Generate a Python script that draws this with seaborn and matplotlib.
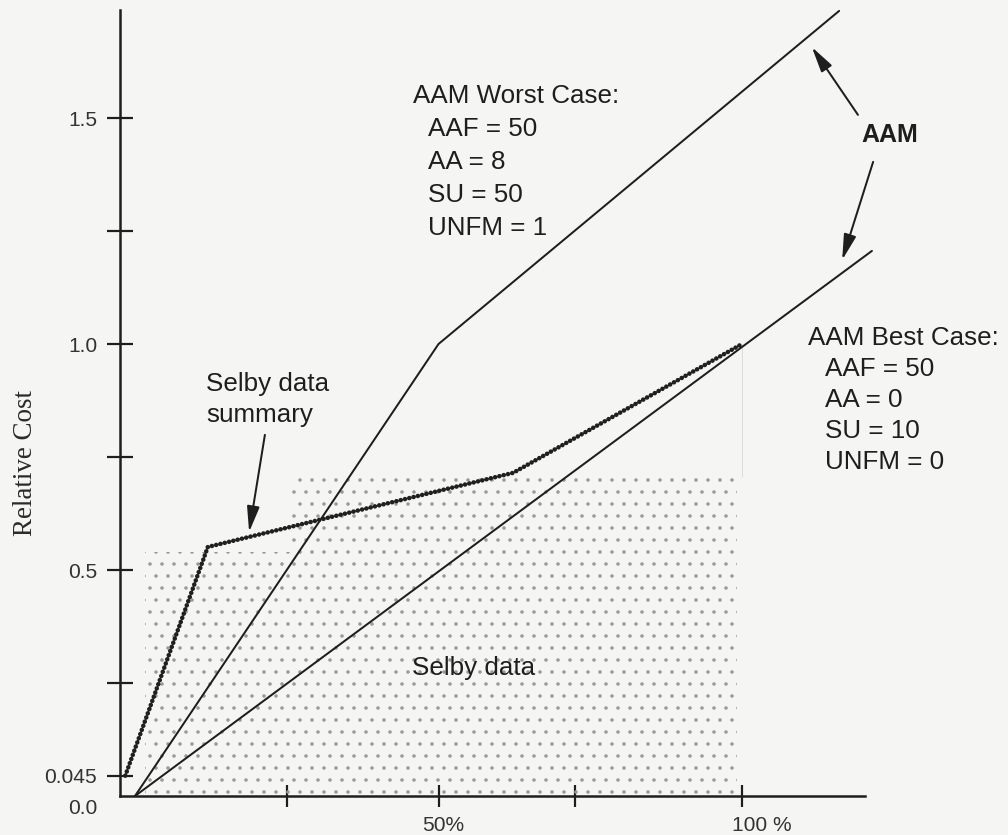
import matplotlib
matplotlib.use("Agg")
import matplotlib.pyplot as plt
import matplotlib.transforms as mtransforms
from matplotlib.ticker import FixedLocator, FixedFormatter
import seaborn as sns
import numpy as np

# ---------------- data ----------------
# x = percent of modification (AAF), y = relative cost
worst_x = [0, 50, 116.0]
worst_y = [0, 1.0, 1.737]
best_x = [0, 121.4]
best_y = [0, 1.206]
selby_sum_x = [-1.6, 12.0, 62.3, 100]
selby_sum_y = [0.045, 0.551, 0.715, 1.0]
# stippled "Selby data" region (step outline)
region_x = [1.6, 25.9, 25.9, 99.2]
region_y = [0.54, 0.54, 0.706, 0.706]
region_vline_x = [100, 100]
region_vline_y = [0.706, 1.0]

ytick_vals = [0.045, 0.25, 0.5, 0.75, 1.0, 1.25, 1.5]
ytick_labels = ["0.045", "", "0.5", "", "1.0", "", "1.5"]
xtick_vals = [25, 50, 72.5, 100]
xtick_labels = ["", "50%", "", "100 %"]

worst_lines = ["AAF = 50", "AA = 8", "SU = 50", "UNFM = 1"]
best_lines = ["AAF = 50", "AA = 0", "SU = 10", "UNFM = 0"]

# ---------------- style ----------------
sns.set_style("white")
plt.rcParams["font.family"] = ["Liberation Sans", "DejaVu Sans"]
plt.rcParams["hatch.linewidth"] = 1.1

INK = "#1e1e1e"
BG = "#f5f5f4"
DPI = 72  # 1 pt == 1 px
fig = plt.figure(figsize=(1008 / DPI, 835 / DPI), dpi=DPI, facecolor=BG)
ax = fig.add_axes([120 / 1008, (835 - 796) / 835, 745 / 1008, 786 / 835])
ax.set_facecolor(BG)

ax.set_xlim(-2.47, 120.26)
ax.set_ylim(0, 1.739)

# stippled region
ax.fill_between(region_x, 0, region_y, facecolor="none", edgecolor="#9a9a9a",
                hatch=".", linewidth=0, zorder=1)
sns.lineplot(x=region_vline_x, y=region_vline_y, ax=ax, color="#7a7a7a",
             lw=1.3, linestyle=(0, (5, 2, 1, 2)), sort=False, zorder=2)

# AAM lines
sns.lineplot(x=worst_x, y=worst_y, ax=ax, color=INK, lw=2.0, sort=False,
             clip_on=False, zorder=3)
sns.lineplot(x=best_x, y=best_y, ax=ax, color=INK, lw=2.0, sort=False,
             clip_on=False, zorder=3)
# Selby data summary (beaded dotted line)
sns.lineplot(x=selby_sum_x, y=selby_sum_y, ax=ax, color="#202020", lw=4.6,
             linestyle=(0, (0.01, 0.95)), dash_capstyle="round",
             sort=False, clip_on=False, zorder=4)

# ---------------- axes ----------------
for s in ["top", "right"]:
    ax.spines[s].set_visible(False)
for s in ["left", "bottom"]:
    ax.spines[s].set_linewidth(2.5)
    ax.spines[s].set_color(INK)

ax.yaxis.set_major_locator(FixedLocator(ytick_vals))
ax.yaxis.set_major_formatter(FixedFormatter(ytick_labels))
ax.yaxis.set_minor_locator(FixedLocator([0.0]))
ax.yaxis.set_minor_formatter(FixedFormatter(["0.0"]))
ax.tick_params(axis="y", which="major", direction="inout", length=26, width=2.2,
               color=INK, labelsize=21, labelcolor="#333333", pad=10, left=True)
ax.tick_params(axis="y", which="minor", length=0, labelsize=21,
               labelcolor="#333333", pad=23, left=True)
ax.xaxis.set_major_locator(FixedLocator(xtick_vals))
ax.xaxis.set_major_formatter(FixedFormatter(xtick_labels))
ax.tick_params(axis="x", which="major", direction="inout", length=22, width=2.2,
               color=INK, labelsize=21, labelcolor="#333333", pad=9, bottom=True)

# shift "0.0" down and "100 %" right as drawn
for lab in ax.yaxis.get_minorticklabels():
    lab.set_transform(lab.get_transform() +
                      mtransforms.ScaledTranslation(0, -11 / DPI, fig.dpi_scale_trans))
xl = ax.xaxis.get_majorticklabels()
xl[3].set_transform(xl[3].get_transform() +
                    mtransforms.ScaledTranslation(20 / DPI, 0, fig.dpi_scale_trans))
xl[1].set_transform(xl[1].get_transform() +
                    mtransforms.ScaledTranslation(5 / DPI, 0, fig.dpi_scale_trans))

ax.set_xlabel("")
ax.set_ylabel("Relative Cost", family=["Liberation Serif", "DejaVu Serif"],
              fontsize=27, color="#2a2a2a")
ax.yaxis.set_label_coords(-0.110, 0.424)

# ---------------- annotations ----------------
PX_Y = 1.739 / 786  # data units per px in y
FS = 26
ax.text(45.8, 1.533, "AAM Worst Case:", fontsize=FS, color=INK, va="baseline")
for i, t in enumerate(worst_lines):
    ax.text(48.3, 1.533 - (i + 1) * 33 * PX_Y, t, fontsize=FS, color=INK,
            va="baseline")

ax.text(110.9, 0.998, "AAM Best Case:", fontsize=FS, color=INK, va="baseline",
        clip_on=False)
for i, t in enumerate(best_lines):
    ax.text(113.7, 0.998 - (i + 1) * 31 * PX_Y, t, fontsize=FS, color=INK,
            va="baseline", clip_on=False)

ax.text(11.7, 0.896, "Selby data", fontsize=FS, color=INK, va="baseline")
ax.text(11.7, 0.896 - 31 * PX_Y, "summary", fontsize=FS, color=INK, va="baseline")
ax.text(45.6, 0.268, "Selby data", fontsize=FS, color=INK, va="baseline")

arrow = dict(arrowstyle="-|>,head_length=0.9,head_width=0.22", mutation_scale=24,
             lw=2.0, color=INK, shrinkA=0, shrinkB=0)
ax.annotate("", xy=(18.8, 0.584), xytext=(21.4, 0.799), arrowprops=arrow)
ax.annotate("", xy=(111.5, 1.657), xytext=(119.1, 1.507), arrowprops=arrow,
            annotation_clip=False)
ax.annotate("", xy=(116.5, 1.186), xytext=(121.6, 1.403), arrowprops=arrow,
            annotation_clip=False)
ax.text(124.4, 1.462, "AAM", fontsize=25, fontweight="bold", color=INK,
        ha="center", va="center", clip_on=False)

fig.savefig("out.png", dpi=DPI, facecolor=BG)
